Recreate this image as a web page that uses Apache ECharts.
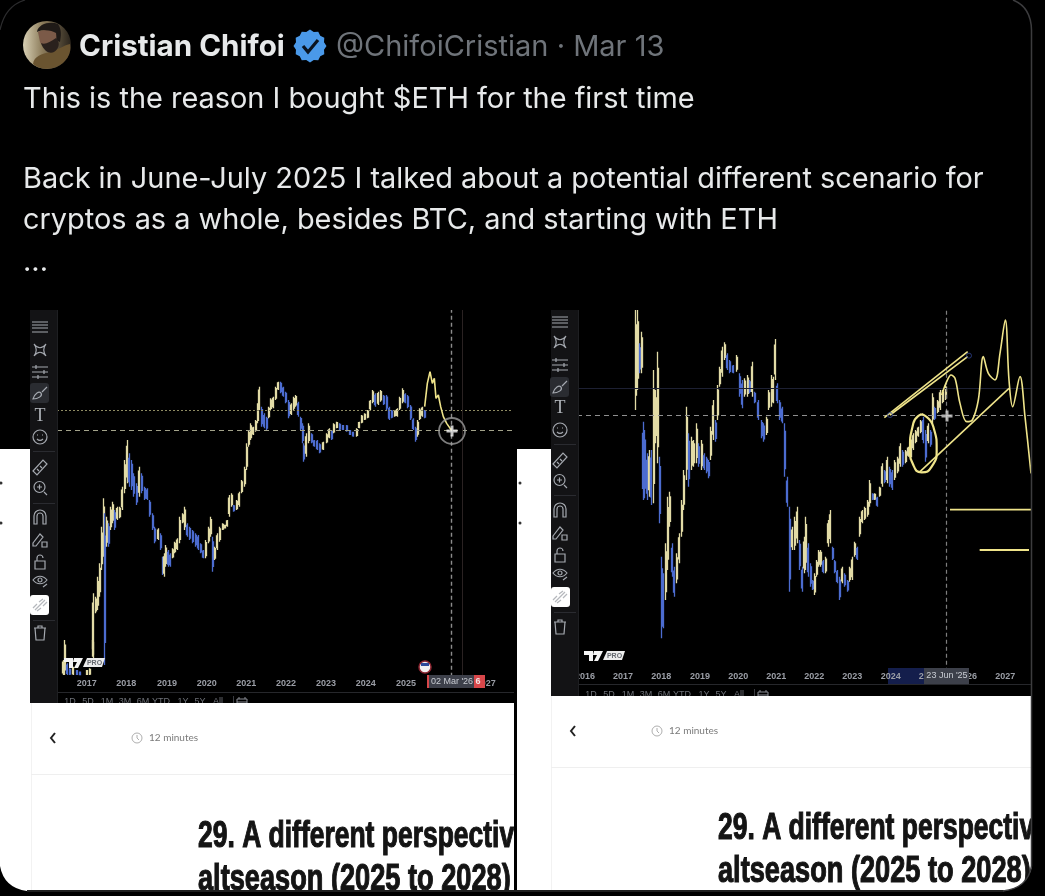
<!DOCTYPE html>
<html><head><meta charset="utf-8">
<style>html,body{margin:0;padding:0;background:#000;overflow:hidden}#c{width:1045px;height:896px}</style>
<script src="https://cdn.jsdelivr.net/npm/echarts@6/dist/echarts.min.js"></script>
</head><body><div id="c"></div>
<script>
// ---- left chart (ETH, bought-first-time view) ----
const leftTickPos = [170,289,411,530,649,768,888,1007,1128,1248,1367];
const leftTickLabels = ['2017','2018','2019','2020','2021','2022','2023','2024','2025','2026','2027'];
const leftX = [100,104,112,120,130,140,150,172,180,188,190,197,203,210,215,222,225,230,236,242,248,255,262,270,277,284,292,298,305,312,320,328,335,345,352,360,368,375,385,392,398,403,408,415,421,428,435,442,450,458,465,472,480,488,497,505,512,520,528,537,543,548,555,562,570,578,586,592,598,605,612,620,628,636,645,650,657,663,670,677,683,688,695,703,710,716,722,730,738,745,752,760,768,776,784,792,798,805,812,818,822,829,836,845,853,862,870,880,890,898,905,912,920,930,940,950,960,970,980,988,996,1005,1014,1021,1028,1036,1045,1053,1062,1070,1078,1086,1094,1102,1110,1118,1126,1134,1142,1150,1158,1164,1170,1177,1184];
const leftHigh = [50,110,40,25,30,20,15,20,25,110,250,240,300,340,450,535,490,480,460,510,525,500,510,510,570,650,710,670,650,610,580,630,610,570,565,530,490,450,445,430,360,370,395,380,370,385,405,415,480,490,510,460,450,440,430,425,400,380,410,450,480,420,390,430,450,460,455,470,545,550,515,530,555,590,630,700,740,760,750,770,820,870,810,790,780,810,835,840,870,885,885,870,855,830,820,840,845,825,780,760,700,730,760,730,710,710,700,705,730,745,740,760,765,760,755,755,740,735,745,765,785,790,800,830,860,850,855,860,845,845,810,800,800,805,840,865,850,845,815,775,750,770,805,810,800];
const leftLow = [5,5,5,5,5,5,5,5,5,60,55,190,200,240,320,360,35,390,390,440,460,440,470,475,500,550,580,570,560,540,515,540,550,530,530,480,440,400,410,380,305,300,330,330,330,355,370,380,400,460,440,420,410,400,390,380,370,355,355,400,420,315,350,380,405,440,445,450,480,510,495,500,510,550,570,620,690,710,725,735,760,800,750,745,740,775,800,805,830,860,850,840,820,775,785,800,810,780,740,700,645,660,700,700,690,680,670,680,700,715,710,730,745,740,740,735,725,720,720,745,760,770,775,800,820,810,815,825,815,800,770,775,780,780,800,820,820,805,770,740,705,720,770,780,775];
const leftDrawnX = [1184,1192,1200,1207,1213,1218,1225,1232,1240,1250,1265];
const leftDrawnY = [810,880,915,880,895,835,845,810,780,760,738];
const leftLevelDotted = 800;
const leftLevelDashed = 740;
const leftCursorX = 1265;
const leftFaintX = 1298;
const leftCursorPoint = [1266,737];

// ---- right chart (June 2025 scenario) ----
const rightTickPos = [120,234,349,465,580,694,808,922,1037,1151,1266,1381];
const rightTickLabels = ['2016','2017','2018','2019','2020','2021','2022','2023','2024','2025','2026','2027'];
const rightX = [272,278,284,290,295,300,307,313,319,326,333,339,345,350,355,362,368,375,382,388,395,403,410,417,425,432,440,447,455,462,470,478,485,492,498,505,512,518,525,532,540,547,555,565,575,585,592,600,608,615,622,630,640,650,657,665,672,680,685,691,697,705,712,720,727,735,742,750,757,765,772,778,783,790,797,803,809,815,822,828,835,842,850,856,863,870,877,884,892,900,908,915,922,930,937,945,952,960,968,975,983,990,997,1005,1012,1020,1027,1035,1042,1050,1058,1066,1074,1082,1090,1098,1105,1112,1120,1128,1135,1143,1150,1157,1163,1170,1178,1186,1194,1202];
const rightHigh = [1100,1100,1000,1035,765,740,670,680,680,920,860,975,660,360,310,400,540,555,400,330,370,430,530,620,810,730,720,710,760,700,710,670,660,650,750,830,770,875,930,990,1003,970,950,935,965,910,890,895,905,890,945,855,830,770,760,780,860,905,900,1013,880,830,810,760,600,510,450,480,510,410,330,420,480,400,340,290,310,350,380,380,350,360,470,500,390,350,320,300,330,310,290,330,360,405,390,480,500,510,530,590,550,550,540,570,640,620,660,630,620,650,660,700,680,680,690,720,730,740,750,770,780,740,760,740,850,810,830,860,860,875];
const rightLow = [800,860,910,910,530,535,530,540,515,520,700,640,460,115,145,230,320,450,300,240,280,340,420,500,590,570,620,630,640,630,620,620,610,595,650,710,705,770,870,900,950,920,910,910,915,840,805,840,840,850,840,820,770,715,705,725,800,810,820,890,820,770,760,600,510,255,380,380,400,320,255,310,320,300,270,260,245,300,330,330,310,310,390,400,350,310,280,230,280,270,255,285,290,360,350,420,460,470,480,510,530,530,510,540,570,580,580,570,560,590,610,630,630,640,660,650,680,700,720,730,700,645,700,690,760,770,790,800,820,830];
const rightProjection = [[1190,845],[1205,885],[1218,905],[1230,895],[1245,820],[1265,765],[1282,770],[1300,830],[1315,960],[1330,910],[1350,890],[1365,970],[1381,1070],[1392,890],[1403,810],[1425,900],[1440,780],[1458,610]];
const rightChannelUpperA = [[1018,777],[1268,975]];
const rightChannelUpperB = [[1035,785],[1268,960]];
const rightChannelLower = [[1125,615],[1392,865]];
const rightEllipse = [[1130,788],[1105,760],[1095,680],[1105,635],[1130,613],[1160,630],[1175,680],[1165,750],[1130,788]];
const rightTargetA = [[1215,501],[1458,501]];
const rightTargetB = [[1304,380],[1452,380]];
const rightLevelSolid = 864;
const rightLevelDashed = 785;
const rightCursorX = 1205;
const rightCursorPoint = [1206,782];
const rightHandles = [[1035,785],[1272,963]];

const UP = '#e2dba6', DOWN = '#4c6cd0', PEN = '#efe48a';

// wick over the whole high-low range, a body in its middle
function candles(xs, hi, lo) {
  return xs.map((x, i) => {
    const mid = (hi[i] + lo[i]) / 2, half = (hi[i] - lo[i]) * 0.35;
    const prev = i ? (hi[i-1] + lo[i-1]) / 2 : mid - 1;
    return mid >= prev ? [x, mid-half, mid+half, lo[i], hi[i]] : [x, mid+half, mid-half, lo[i], hi[i]];
  });
}
const candleStyle = {color: UP, color0: DOWN, borderColor: UP, borderColor0: DOWN, borderWidth: 1.3};
function penLine(data, g, w, smooth) {
  return {type:'line', xAxisIndex:g, yAxisIndex:g, data, symbol:'none', smooth: smooth||false, silent:true, z:5,
    lineStyle:{color:PEN, width:w||1.5}};
}
function marks(g, list) {
  return {type:'line', xAxisIndex:g, yAxisIndex:g, data:[], silent:true, z:3,
    markLine:{silent:true, symbol:'none', animation:false, label:{show:false}, data:list}};
}

// ---- page furniture ----
const els = [];
let shapeCount = 0;
const shapeNames = {};
function pathType(d){
  if(!shapeNames[d]){
    const name = 'sketchPath' + (shapeCount++);
    echarts.graphic.registerShape(name, echarts.graphic.extendPath(d,{}));
    shapeNames[d] = name;
  }
  return shapeNames[d];
}
function add(o){
  o.z = o.z == null ? 100 : o.z;
  if(o.type==='path'){ o.type = pathType(o.shape.pathData); o.shape = {}; }
  els.push(o);
}
function rect(x,y,w,h,fill,r,z){ add({type:'rect', z, shape:{x,y,width:w,height:h,r:r||0}, style:{fill}}); }
function txt(t,x,y,font,fill,align,extra){ add(Object.assign({type:'text', x, y, style:{text:t,font,fill,textAlign:align||'left',textVerticalAlign:'middle'}},extra||{})); }
function stroke(d,x,y,col,w){ add({type:'path', x, y, shape:{pathData:d}, style:{fill:null,stroke:col||'#a5a9b0',lineWidth:w||1.2}}); }
function fillPath(d,fill,x,y){ add({type:'path', x:x||0, y:y||0, shape:{pathData:d}, style:{fill}}); }
const C7 = 'M -7 0 A 7 7 0 1 0 7 0 A 7 7 0 1 0 -7 0';

function toolbar(x,top,bottom,cx,ys,seps){
  rect(x,top,27,bottom-top,'#131315');
  rect(x+27,top,1,bottom-top,'#1e1f22');
  seps.forEach(s=>rect(x+3,s,22,1,'#2a2b30'));
  const p = ys;
  stroke('M -8 -5 H 8 M -8 -2 H 8 M -8 1 H 8 M -8 5 H 8',cx,p[0]);
  stroke('M -6 -6 C -2 -1 2 -1 6 -6 M -6 6 C -2 1 2 1 6 6 M -6 -6 C -3 -2 -3 2 -6 6 M 6 -6 C 3 -2 3 2 6 6',cx,p[1]);
  stroke('M -8 -5 H 8 M -8 0 H 8 M -8 5 H 8 M -4 -7 V -3 M 4 -2 V 2 M -2 3 V 7',cx,p[2]);
  rect(cx-10,p[3]-10,19,20,'#2a2c31',3);
  stroke('M -7 6 C -5 0 -1 -2 1 0 C 3 3 -2 6 -7 6 Z M 2 -1 L 7 -6',cx,p[3]);
  txt('T',cx,p[4],'18px "Liberation Serif"','#b0b4ba','center');
  stroke(C7+' M -3 2 C -1 4 1 4 3 2 M -3 -2 H -2 M 2 -2 H 3',cx,p[5]);
  stroke('M -7 4 L 3 -7 L 7 -3 L -3 8 Z M -3 2 L -1 4 M 0 -1 L 2 1',cx,p[6]);
  stroke('M -6 -1 A 5.5 5.5 0 1 0 5 -1 A 5.5 5.5 0 1 0 -6 -1 M 4 4 L 7 7 M -3 -1 H 2 M -0.5 -3.5 V 1.5',cx,p[7]);
  stroke('M -6 7 V -1 A 6 6 0 0 1 6 -1 V 7 H 3 V -1 A 3 3 0 0 0 -3 -1 V 7 Z',cx,p[8]);
  stroke('M -7 3 L 0 -6 L 3 -3 L -4 6 L -7 6 Z M 2 2 H 7 V 7 H 2 Z',cx,p[9]);
  stroke('M -5 -1 H 5 V 7 H -5 Z M -3 -1 V -4 A 3 3 0 0 1 3 -4',cx,p[10]);
  stroke('M -7 -2 C -3 -7 3 -7 7 -2 C 3 3 -3 3 -7 -2 Z M -2 -2 A 2 2 0 1 0 2 -2 A 2 2 0 1 0 -2 -2 M 3 5 L 7 2',cx,p[11]);
  rect(x,p[12]-10,19,20,'#ffffff',3);
  stroke('M -5 5 L 5 -5 M -7 3 L -3 -1 M 7 -3 L 3 1 M -3 6 L 1 3 M 3 -6 L -1 -3',cx,p[12],'#b5b8bd');
  stroke('M -6 -5 H 6 M -5 -5 L -4 7 H 4 L 5 -5 M -2 -5 V -7 H 2 V -5',cx,p[13]);
}
function tabs(x,y){
  const t = ['1D','5D','1M','3M','6M','YTD','1Y','5Y','All'];
  const pos = [0,18,37,55,73,91,113,130,148];
  t.forEach((s,i)=>txt(s,x+pos[i],y,'9px "Liberation Sans"','#6e7178','center'));
  rect(x+163,y-6,1,11,'#3a3b40');
  stroke('M -5 -3 H 5 V 5 H -5 Z M -5 0 H 5 M -3 -5 V -3 M 3 -5 V -3',x+172,y,'#8a8d95',1);
}
function logo(x,y){
  fillPath('M 0 -5 H 9 V 5 H 5 V -1 H 0 Z M 10 -5 H 19 L 14 5 H 10 L 13 -1 H 9 Z','#f4f4f4',x,y);
  add({type:'polygon', shape:{points:[[x+19,y+4],[x+23,y-5],[x+41,y-5],[x+38,y+4]]}, style:{fill:'#ececec'}});
  txt('PRO',x+30.5,y,'bold 7px "Liberation Sans"','#666a70','center');
}
function article(l,right,top,divY,chevX,clockX,cy,title1Y,title2Y,titleX){
  rect(l,top,right-l,896-top,'#ffffff');
  rect(l,top,1,891-top,'#f2f2f2');
  stroke('M 2 -5 L -2 0 L 2 5',chevX,cy,'#222',2);
  add({type:'circle', shape:{cx:clockX,cy,r:5}, style:{fill:null,stroke:'#9a9a9a',lineWidth:.8}});
  stroke('M 0 -3 V 0 L 2 2',clockX,cy,'#9a9a9a',.8);
  txt('12 minutes',clockX+12,cy,'10px "Lato"','#7a7a7a');
  rect(l,divY,right-l,1,'#efefef');
  const f = '900 36px "Liberation Sans"';
  [['29. A different perspectiv',title1Y,0.735],['altseason (2025 to 2028)',title2Y,0.755]].forEach(r=>
    add({type:'text',x:titleX,y:r[1],scaleX:r[2],style:{text:r[0],font:f,fill:'#141414',stroke:'#141414',lineWidth:1.1,textVerticalAlign:'middle'}}));
}

// tweet header
add({type:'circle', shape:{cx:47,cy:45,r:24}, style:{fill:{type:'linear',x:0,y:0,x2:1,y2:0,colorStops:[{offset:0,color:'#d8d0b4'},{offset:.4,color:'#8d7d5c'},{offset:1,color:'#2a241c'}]}}});
fillPath('M 33 64 C 34 56 42 54 50 52 C 58 50 62 46 70 44 C 72 54 66 63 56 67 C 48 70 38 69 33 64 Z','#6a5430');
fillPath('M 37 32 C 38 24 50 21 58 24 C 62 30 61 36 60 42 L 56 40 C 56 34 52 31 46 31 C 42 30 39 31 37 32 Z','#1f1a17');
fillPath('M 38 32 C 42 29 52 30 56 33 C 57 40 56 46 52 50 C 46 50 42 46 40 42 Z','#7b5a48');
fillPath('M 41 43 C 45 45 50 42 56 38 C 60 42 60 48 54 52 C 50 54 44 52 41 43 Z','#2a211d');
txt('Cristian Chifoi',79,47,'bold 29.6px "Inter"','#e7e9ea');
const badgePts = [];
for(let i=0;i<24;i++){const a=i*Math.PI/12, r=i%2?14.5:16.5; badgePts.push([310+r*Math.cos(a),46+r*Math.sin(a)]);}
add({type:'polygon', shape:{points:badgePts}, style:{fill:'#4a99e9'}});
add({type:'polyline', shape:{points:[[303,46],[308,52],[318,40]]}, style:{fill:null,stroke:'#0b1420',lineWidth:3.2}});
txt('@ChifoiCristian · Mar 13',336,47,'29px "Inter"','#6f747a');
txt('This is the reason I bought $ETH for the first time',23,99,'28.9px "Inter"','#e7e9ea');
txt('Back in June-July 2025 I talked about a potential different scenario for',23,179,'28.9px "Inter"','#e7e9ea');
txt('cryptos as a whole, besides BTC, and starting with ETH',23,220,'28.9px "Inter"','#e7e9ea');
txt('...',23,262,'28.9px "Inter"','#e7e9ea');

// axis underlines and tab rows (tabs are half hidden by the article panels below)
rect(57,692,457,1,'#26272b');
rect(577,684,455,1,'#26272b');
tabs(70,702);
tabs(591,695);

// left margin, left toolbar and article
rect(0,449,31,447,'#ffffff');
toolbar(30,310,703,40,[327,350,372,393,416,437,467,488,517,540,562,582,605,633],[451,503,620]);
article(31,514,703,774,53,137,738,837,880,198);
// separator between the two screenshots
rect(514,310,3,586,'#000000');
// right margin, right toolbar and article
rect(517,449,34,447,'#ffffff');
[[1,483],[1,523],[520,483],[520,523]].forEach(p=>add({type:'circle',shape:{cx:p[0],cy:p[1],r:1.5},style:{fill:'#333'}}));
toolbar(551,310,696,560,[322,342,365,387,408,430,460,481,510,533,555,575,597,627],[444,495,612]);
article(551,1032,696,767,573,657,731,829,872,718);

// date badges
add({type:'circle',shape:{cx:425,cy:667,r:6},style:{fill:'#f0f0f0',stroke:'#8a2530',lineWidth:1.5}});
add({type:'rect',shape:{x:421,y:663,width:8,height:3},style:{fill:'#2c4a9a'}});
rect(427,675,58,13,'#d8474a');
rect(429,675,45,13,'#3d404a');
txt("02 Mar '26",452,682,'9px "Liberation Sans"','#c9ccd3','center');
txt('6',478,682,'bold 9px "Liberation Sans"','#f2e3e3','center');
rect(888,668,81,16,'#141e4c',0,1);
rect(924,668,45,16,'#3d404a');
txt("23 Jun '25",947,676,'9px "Liberation Sans"','#c9ccd3','center');
logo(64,663);
logo(584,656);

// outer card
rect(1032,0,13,896,'#000000');
fillPath('M 0 866 Q 4 888 27 891 L 0 891 Z','#000');
fillPath('M 1032 866 Q 1028 888 1003 891 L 1032 891 Z','#000');
rect(0,891,1045,5,'#000000');
rect(27,890,977,2,'#1f1f1f');
add({type:'path',shape:{pathData:'M 1013 0 Q 1031 7 1031.5 30 V 866 Q 1028 888 1003 891'},style:{fill:null,stroke:'#3c3c3e',lineWidth:1.5}});
add({type:'path',shape:{pathData:'M 25 0 Q 5 6 0 30'},style:{fill:null,stroke:'#2c2c2e',lineWidth:1.2}});

function xaxis(g,min,max,pos,labels,margin,z){
  return {type:'value',gridIndex:g,min,max,z,
    axisLine:{show:false},axisTick:{show:false},splitLine:{show:false},
    axisLabel:{customValues:pos,margin,color:'#9b9ea6',fontSize:9,fontWeight:'bold',fontFamily:'Liberation Sans',
      hideOverlap:false,showMinLabel:true,showMaxLabel:true,
      formatter:v=>labels[pos.indexOf(v)]||''}};
}
const option = {
  backgroundColor:'#000',
  animation:false,
  grid:[
    {left:57,top:310,width:456,height:366.67},
    {left:577,top:310,width:455,height:361.67}
  ],
  xAxis:[
    xaxis(0,81,1449,leftTickPos,leftTickLabels,2,0),
    xaxis(1,96,1461,rightTickPos,rightTickLabels,0,60)
  ],
  yAxis:[
    {type:'value',gridIndex:0,min:0,max:1100,show:false},
    {type:'value',gridIndex:1,min:15,max:1100,show:false}
  ],
  series:[
    {type:'candlestick',xAxisIndex:0,yAxisIndex:0,barWidth:1.4,silent:true,itemStyle:candleStyle,
      encode:{x:0,y:[1,2,3,4]},data:candles(leftX,leftHigh,leftLow),z:4},
    penLine(leftDrawnX.map((x,i)=>[x,leftDrawnY[i]]),0,1.6),
    marks(0,[
      {yAxis:leftLevelDotted,lineStyle:{color:'#8d8a62',type:[2,2],width:1}},
      {yAxis:leftLevelDashed,lineStyle:{color:'#a3a38a',type:[5,4],width:1}},
      {xAxis:leftFaintX,lineStyle:{color:'#2a2222',type:'solid',width:1}},
      {xAxis:leftCursorX,lineStyle:{color:'#8c8c8c',type:[4,3],width:1.4}}
    ]),
    {type:'scatter',xAxisIndex:0,yAxisIndex:0,data:[leftCursorPoint],symbol:'circle',symbolSize:26,silent:true,z:6,
      itemStyle:{color:'rgba(0,0,0,0)',borderColor:'#9c9c9c',borderWidth:1.8}},
    {type:'scatter',xAxisIndex:0,yAxisIndex:0,data:[leftCursorPoint],symbol:'path://M4 0h3v4h4v3h-4v4h-3v-4h-4v-3h4z',symbolSize:11,silent:true,z:7,
      itemStyle:{color:'#f2f2f2'}},

    {type:'candlestick',xAxisIndex:1,yAxisIndex:1,barWidth:1.4,silent:true,itemStyle:candleStyle,
      encode:{x:0,y:[1,2,3,4]},data:candles(rightX,rightHigh,rightLow),z:4},
    penLine(rightProjection,1,1.6,0.35),
    penLine(rightChannelUpperA,1,1.6),
    penLine(rightChannelUpperB,1,1.6),
    penLine(rightChannelLower,1,1.6),
    penLine(rightEllipse,1,2.2,0.6),
    penLine(rightTargetA,1,1.8),
    penLine(rightTargetB,1,1.8),
    marks(1,[
      {yAxis:rightLevelSolid,lineStyle:{color:'#1d2033',type:'solid',width:1}},
      {yAxis:rightLevelDashed,lineStyle:{color:'#8f8f8f',type:[5,4],width:1}},
      {xAxis:rightCursorX,lineStyle:{color:'#7e7e7e',type:[4,3],width:1.2}}
    ]),
    {type:'scatter',xAxisIndex:1,yAxisIndex:1,data:[rightCursorPoint],symbol:'path://M4 0h3v4h4v3h-4v4h-3v-4h-4v-3h4z',symbolSize:11,silent:true,z:7,
      itemStyle:{color:'#d8d8d8'}},
    {type:'scatter',xAxisIndex:1,yAxisIndex:1,data:rightHandles,symbol:'circle',symbolSize:5,silent:true,z:6,
      itemStyle:{color:'rgba(0,0,0,0)',borderColor:'#2f4490',borderWidth:1}}
  ],
  graphic:{elements:els}
};
const chart = echarts.init(document.getElementById('c'),null,{renderer:'canvas',width:1045,height:896});
chart.setOption(option);
</script></body></html>
